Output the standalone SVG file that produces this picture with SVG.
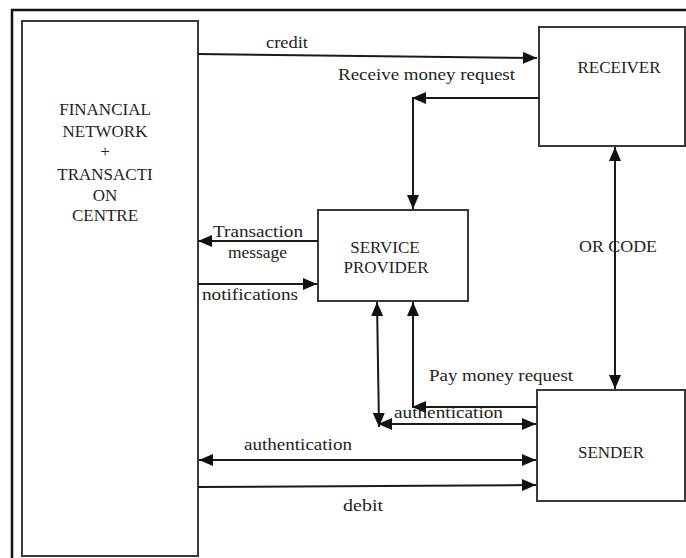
<svg xmlns="http://www.w3.org/2000/svg" width="686" height="558" viewBox="0 0 686 558">
<style>
.box{fill:#fff;stroke:#3a3a3a;stroke-width:2}
.c{fill:none;stroke:#1a1a1a;stroke-width:2}
text{font-family:"Liberation Serif","Times New Roman",serif;fill:#222}
.n{font-size:17px;text-anchor:middle}
.l{font-size:17px}
</style>
<defs>
<marker id="ah" viewBox="0 0 14 12" refX="14" refY="6" markerWidth="14" markerHeight="12" markerUnits="userSpaceOnUse" orient="auto-start-reverse">
<path d="M0,0 L14,6 L0,12 Z" fill="#111"/>
</marker>
</defs>
<rect x="12" y="10" width="690" height="570" fill="#fff" stroke="#111" stroke-width="2.5"/>
<g id="financial">
<rect class="box" x="22" y="21" width="176" height="535"/>
<text class="n" x="105" y="115">FINANCIAL</text>
<text class="n" x="105" y="137">NETWORK</text>
<text class="n" x="105" y="157">+</text>
<text class="n" x="105" y="180">TRANSACTI</text>
<text class="n" x="105" y="201">ON</text>
<text class="n" x="105" y="221">CENTRE</text>
</g>
<g id="receiver">
<rect class="box" x="539" y="27" width="146" height="119"/>
<text class="n" x="619" y="73">RECEIVER</text>
</g>
<g id="service-provider">
<rect class="box" x="318" y="210" width="150" height="91"/>
<text class="n" x="385" y="253">SERVICE</text>
<text class="n" x="386" y="273">PROVIDER</text>
</g>
<g id="sender">
<rect class="box" x="537" y="390" width="148" height="111"/>
<text class="n" x="611" y="458">SENDER</text>
</g>
<g id="connectors">
<line class="c" x1="198" y1="54" x2="537" y2="58" marker-end="url(#ah)"/>
<line class="c" x1="539" y1="98" x2="412" y2="98" marker-end="url(#ah)"/>
<line class="c" x1="413" y1="98" x2="413" y2="209" marker-end="url(#ah)"/>
<line class="c" x1="318" y1="241" x2="198" y2="241" marker-end="url(#ah)"/>
<line class="c" x1="198" y1="284" x2="317" y2="284" marker-end="url(#ah)"/>
<line class="c" x1="615" y1="147" x2="615" y2="389" marker-start="url(#ah)" marker-end="url(#ah)"/>
<line class="c" x1="377" y1="302" x2="379" y2="427" marker-start="url(#ah)" marker-end="url(#ah)"/>
<line class="c" x1="537" y1="407" x2="412" y2="407" marker-end="url(#ah)"/>
<line class="c" x1="413" y1="407" x2="413" y2="302" marker-end="url(#ah)"/>
<line class="c" x1="378" y1="424" x2="536" y2="424" marker-start="url(#ah)" marker-end="url(#ah)"/>
<line class="c" x1="199" y1="460" x2="536" y2="460" marker-start="url(#ah)" marker-end="url(#ah)"/>
<line class="c" x1="198" y1="487" x2="536" y2="485" marker-end="url(#ah)"/>
</g>
<g id="labels">
<text class="l" x="266" y="48" textLength="42" lengthAdjust="spacingAndGlyphs">credit</text>
<text class="l" x="338" y="80" textLength="177" lengthAdjust="spacingAndGlyphs">Receive money request</text>
<text class="l" x="213" y="237" textLength="90" lengthAdjust="spacingAndGlyphs">Transaction</text>
<text class="l" x="228" y="258" textLength="59" lengthAdjust="spacingAndGlyphs">message</text>
<text class="l" x="202" y="300" textLength="96" lengthAdjust="spacingAndGlyphs">notifications</text>
<text class="l" x="579" y="252" textLength="78" lengthAdjust="spacingAndGlyphs">OR CODE</text>
<text class="l" x="429" y="381" textLength="144" lengthAdjust="spacingAndGlyphs">Pay money request</text>
<text class="l" x="394" y="418" textLength="109" lengthAdjust="spacingAndGlyphs">authentication</text>
<text class="l" x="244" y="450" textLength="108" lengthAdjust="spacingAndGlyphs">authentication</text>
<text class="l" x="343" y="511" textLength="40" lengthAdjust="spacingAndGlyphs">debit</text>
</g>
</svg>
